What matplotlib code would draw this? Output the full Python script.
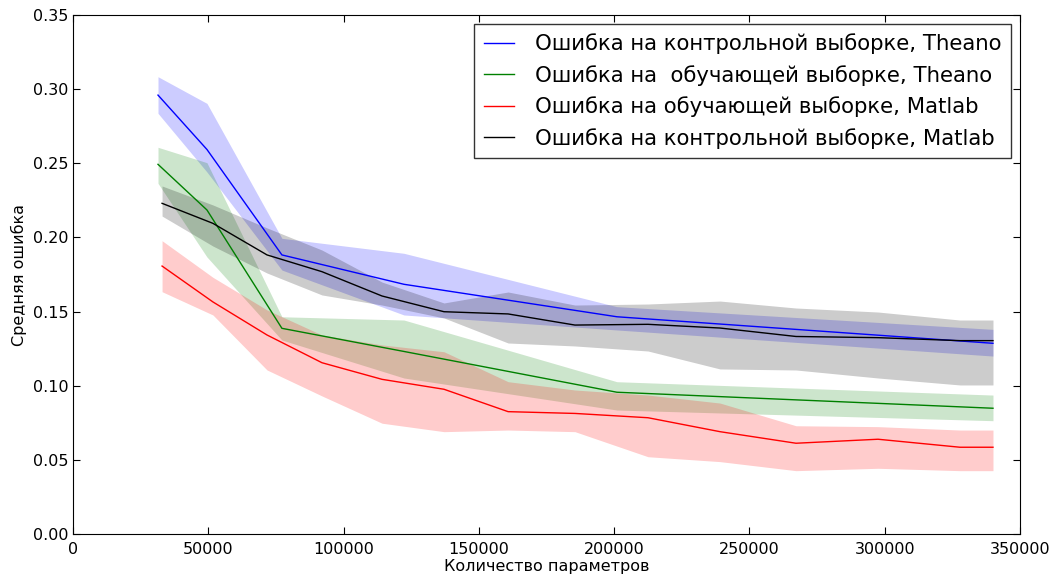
# ------ Ошибка vs количество параметров ------

import matplotlib
matplotlib.use("Agg")
import matplotlib.pyplot as plt
from matplotlib.ticker import FormatStrFormatter

# Theano points
theano_x = [31400, 49500, 77200, 122300, 201000, 340000]
theano_test = [0.2960, 0.2593, 0.1882, 0.1684, 0.1465, 0.1286]
theano_test_hi = [0.3084, 0.2904, 0.1994, 0.1893, 0.1533, 0.1380]
theano_test_lo = [0.2837, 0.2441, 0.1780, 0.1477, 0.1376, 0.1200]
theano_train = [0.2493, 0.2185, 0.1387, 0.1231, 0.0956, 0.0848]
theano_train_hi = [0.2608, 0.2504, 0.1465, 0.1443, 0.1027, 0.0937]
theano_train_lo = [0.2365, 0.1868, 0.1308, 0.1052, 0.0836, 0.0764]

# Matlab points
matlab_x = [32900, 51700, 71700, 92000, 114200, 137100, 160800,
            185500, 212500, 239100, 267200, 297500, 327800, 340000]
matlab_train = [0.1807, 0.1565, 0.1342, 0.1155, 0.1043, 0.0976, 0.0825,
                0.0813, 0.0784, 0.0690, 0.0612, 0.0639, 0.0585, 0.0585]
matlab_train_hi = [0.1978, 0.1731, 0.1511, 0.1342, 0.1275, 0.1229, 0.1027,
                   0.0971, 0.0937, 0.0883, 0.0730, 0.0724, 0.0701, 0.0701]
matlab_train_lo = [0.1634, 0.1477, 0.1106, 0.0931, 0.0747, 0.0690, 0.0701,
                   0.0690, 0.0521, 0.0488, 0.0427, 0.0443, 0.0427, 0.0427]
matlab_test = [0.2230, 0.2095, 0.1882, 0.1769, 0.1605, 0.1499, 0.1484,
               0.1409, 0.1414, 0.1389, 0.1332, 0.1324, 0.1304, 0.1304]
matlab_test_hi = [0.2347, 0.2219, 0.2064, 0.1915, 0.1699, 0.1558, 0.1632,
                  0.1544, 0.1551, 0.1571, 0.1524, 0.1497, 0.1443, 0.1443]
matlab_test_lo = [0.2144, 0.1942, 0.1760, 0.1612, 0.1544, 0.1457, 0.1288,
                  0.1268, 0.1234, 0.1113, 0.1106, 0.1052, 0.1005, 0.1005]

labels = ["Ошибка на контрольной выборке, Theano",
          "Ошибка на  обучающей выборке, Theano",
          "Ошибка на обучающей выборке, Matlab",
          "Ошибка на контрольной выборке, Matlab"]

fig = plt.figure(figsize=(10.6, 5.82), dpi=100)
ax = fig.add_axes([0.0689, 0.0825, 0.8934, 0.8917])

# bands first, then lines
ax.fill_between(theano_x, theano_test_lo, theano_test_hi, color="blue", alpha=0.2, linewidth=0)
ax.fill_between(theano_x, theano_train_lo, theano_train_hi, color="green", alpha=0.2, linewidth=0)
ax.fill_between(matlab_x, matlab_train_lo, matlab_train_hi, color="red", alpha=0.2, linewidth=0)
ax.fill_between(matlab_x, matlab_test_lo, matlab_test_hi, color="black", alpha=0.2, linewidth=0)

ax.plot(theano_x, theano_test, color="blue", lw=1, label=labels[0])
ax.plot(theano_x, theano_train, color="green", lw=1, label=labels[1])
ax.plot(matlab_x, matlab_train, color="red", lw=1, label=labels[2])
ax.plot(matlab_x, matlab_test, color="black", lw=1, label=labels[3])

ax.set_xlim(0, 350000)
ax.set_ylim(0, 0.35)
ax.set_xticks(range(0, 350001, 50000))
ax.set_yticks([i * 0.05 for i in range(8)])
ax.yaxis.set_major_formatter(FormatStrFormatter("%.2f"))
ax.tick_params(direction="in", top=True, right=True, length=5, labelsize=11.5)
ax.tick_params(axis="x", pad=6)

ax.set_xlabel("Количество параметров", fontsize=11.5, labelpad=1)
ax.set_ylabel("Средняя ошибка", fontsize=11.5)

leg = ax.legend(loc="upper right", fontsize=15.3, fancybox=False,
                handlelength=1.4, handletextpad=1.0, borderpad=0.45,
                borderaxespad=0.42, labelspacing=0.5)
leg.get_frame().set_edgecolor("black")

fig.savefig("out.png", dpi=100)
